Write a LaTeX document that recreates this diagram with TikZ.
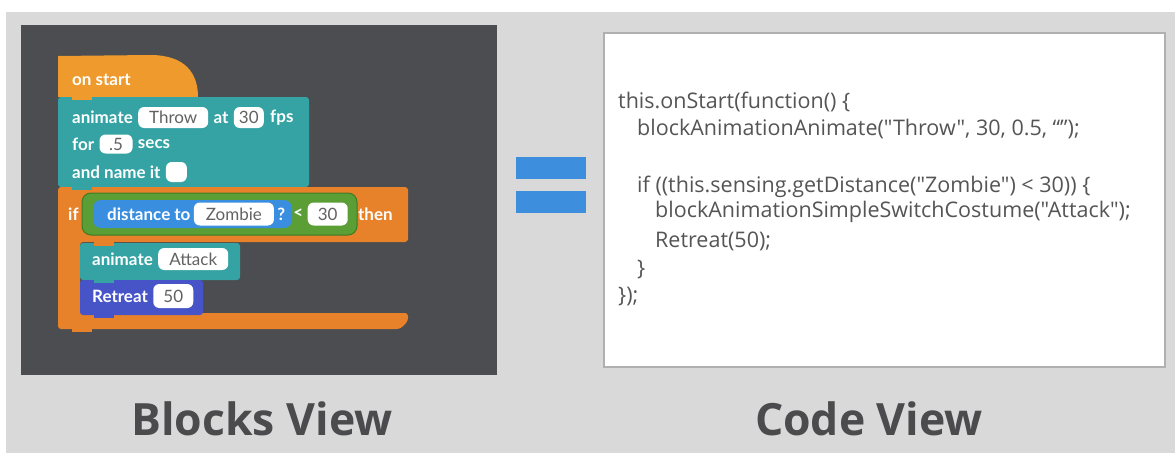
\documentclass[tikz,border=0pt]{standalone}
\usepackage{fontspec}
\newfontfamily\codefont{Open Sans}
\newfontfamily\blockfont{Lato}
\usetikzlibrary{positioning}

\definecolor{bggrey}{HTML}{D9D9D9}
\definecolor{darkpanel}{HTML}{4B4D50}
\definecolor{hatorange}{HTML}{EE9A2C}
\definecolor{iforange}{HTML}{E8822A}
\definecolor{blockteal}{HTML}{35A3A4}
\definecolor{boolgreen}{HTML}{5A9E35}
\definecolor{booldark}{HTML}{3F7A25}
\definecolor{distblue}{HTML}{3A8EE0}
\definecolor{retreatblue}{HTML}{4654C8}
\definecolor{eqblue}{HTML}{3D8FDD}
\definecolor{fieldgrey}{HTML}{626262}
\definecolor{codegrey}{HTML}{555555}
\definecolor{titlegrey}{HTML}{4B4B4D}
\definecolor{panelline}{HTML}{B0B0B0}

\tikzset{
  blocktext/.style={text=white,font=\blockfont\bfseries\fontsize{17}{17}\selectfont,inner sep=0pt,anchor=west},
  field/.style={fill=white,rounded corners=6pt,text=fieldgrey,font=\blockfont\fontsize{17}{17}\selectfont,
    minimum height=21pt,inner xsep=3pt,inner ysep=0pt},
  codeline/.style={anchor=base west,text=codegrey,font=\codefont\fontsize{21.5}{24}\selectfont,inner sep=0pt},
  viewtitle/.style={anchor=base,text=titlegrey,font=\codefont\bfseries\fontsize{44.5}{50}\selectfont,inner sep=0pt}
}

\begin{document}
\begin{tikzpicture}[x=1pt,y=-1pt,node distance=5pt]
 \useasboundingbox (0,0) rectangle (1175,453);
 \fill[white] (0,0) rectangle (1175,453);
 \fill[bggrey] (6,12) rectangle (1175,453);

 % blocks side
 \fill[darkpanel] (21,25) rectangle (497,375);
 \fill[hatorange] (58,97) -- (58,56) -- (150,55) .. controls (186,55) and (198,74) .. (198,97) -- cycle;
 \fill[blockteal,rounded corners=3pt] (58,97) rectangle (309,187);
 \fill[hatorange] (72,95) rectangle (92,100);
 \fill[iforange,rounded corners=3pt] (58,187) -- (408,187) -- (408,242) -- (80,242) -- (80,313)
   -- (408,313) -- (408,321) -- (400,329) -- (58,329) -- cycle;
 \fill[blockteal] (72,185) rectangle (92,190);
 \fill[boolgreen,draw=booldark,line width=1pt,rounded corners=9pt] (82,193) rectangle (357,235);
 \fill[distblue,rounded corners=8pt] (93,200) rectangle (292,228);
 \fill[blockteal,rounded corners=3pt] (80,243) rectangle (240,280);
 \fill[iforange] (94,241) rectangle (114,246);
 \fill[retreatblue,rounded corners=3pt] (80,280) rectangle (203,315);
 \fill[blockteal] (94,278) rectangle (114,283);
 \fill[retreatblue] (94,313) rectangle (114,318);
 \fill[iforange] (72,327) rectangle (92,332);

 \node[blocktext] (onstart) at (72,80) {on start};

 \node[blocktext] (anim) at (72,117.5) {animate};
 \node[field,minimum width=70pt] (throw) [right=of anim] {Throw};
 \node[blocktext] (at) [right=of throw] {at};
 \node[field,minimum width=30pt] (fps) [right=of at] {30};
 \node[blocktext] (fpstext) [right=6pt of fps] {fps};

 \node[blocktext] (for) at (72,144) {for};
 \node[field,minimum width=33pt,minimum height=19pt] (secs) [right=of for] {.5};
 \node[blocktext] (secstext) [right=of secs] {secs};

 \node[blocktext] (name) at (72,172) {and name it};
 \node[field,minimum width=21pt,minimum height=20pt] (namefield) [right=of name] {};

 \node[blocktext] (if) at (68,214) {if};
 \node[blocktext] (dist) at (107,214) {distance to};
 \node[field,minimum width=80pt,minimum height=23pt] (zombie) [right=3pt of dist] {Zombie};
 \node[blocktext] (quest) [right=3pt of zombie] {?};
 \node[blocktext] (less) [right=8pt of quest] {<};
 \node[field,minimum width=40pt,minimum height=23pt] (range) [right=4pt of less] {30};
 \node[blocktext] (then) [right=10pt of range] {then};

 \node[blocktext] (anim2) at (92,259) {animate};
 \node[field,minimum width=70pt,minimum height=22pt] (attack) [right=of anim2] {Attack};

 \node[blocktext] (retreat) at (92,296) {Retreat};
 \node[field,minimum width=40pt,minimum height=24pt] (dist50) [right=of retreat] {50};

 % equals
 \fill[eqblue] (516,157) rectangle (586,179);
 \fill[eqblue] (516,191) rectangle (586,213);

 % code side
 \draw[panelline,fill=white,line width=1.2pt] (604,33) rectangle (1165,367);
 \node[codeline] (c1) at (618,108) {this.onStart(function() \{};
 \node[codeline] (c2) at (637,135) {blockAnimationAnimate("Throw", 30, 0.5, “”);};
 \node[codeline] (c3) at (637,192) {if ((this.sensing.getDistance("Zombie") < 30)) \{};
 \node[codeline] (c4) at (655,217) {blockAnimationSimpleSwitchCostume("Attack");};
 \node[codeline] (c5) at (655,247) {Retreat(50);};
 \node[codeline] (c6) at (637,275) {\}};
 \node[codeline] (c7) at (618,302) {\});};

 \node[viewtitle] (blocksview) at (262,435) {Blocks View};
 \node[viewtitle] (codeview) at (869,435) {Code View};
\end{tikzpicture}
\end{document}
